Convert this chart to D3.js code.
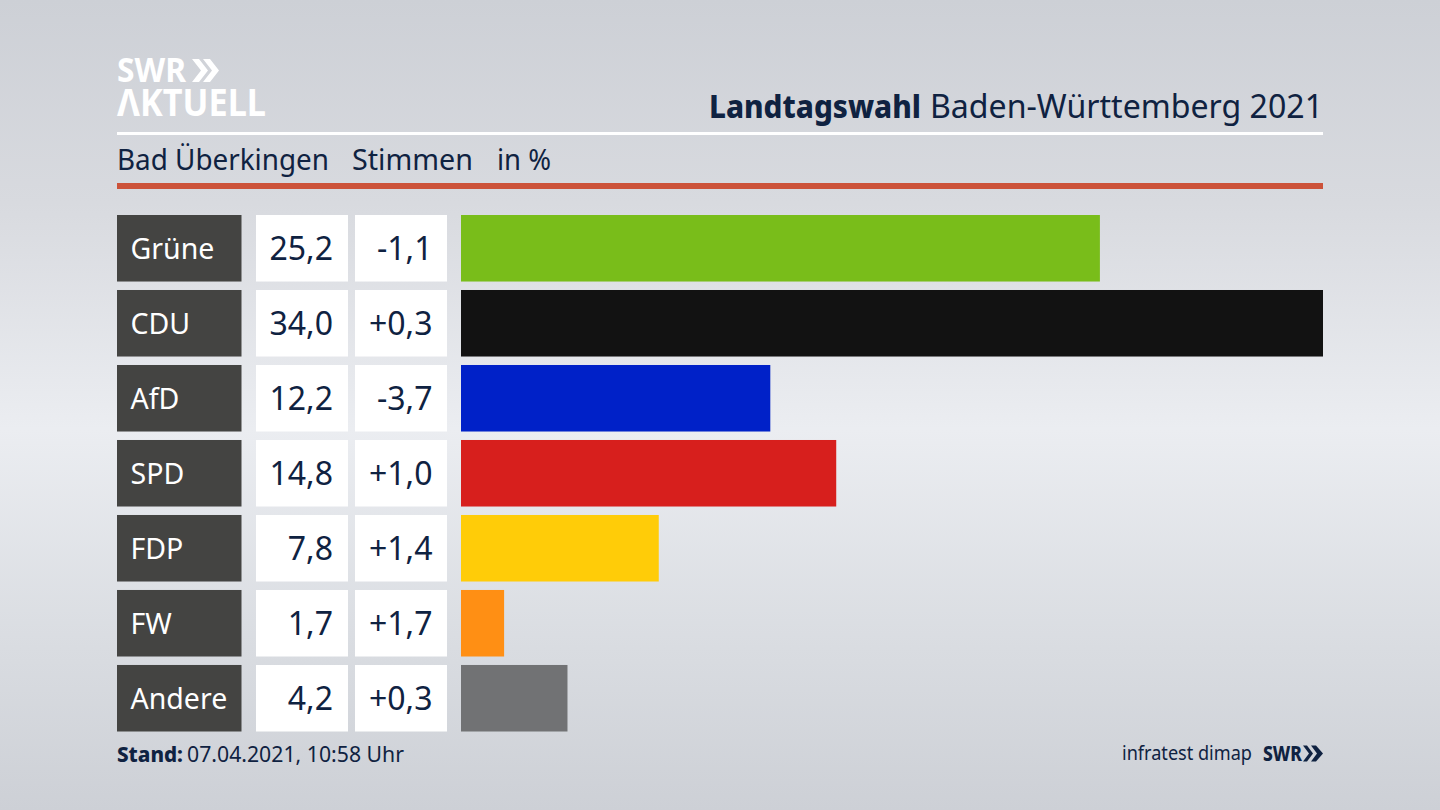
<!DOCTYPE html>
<html>
<head>
<meta charset="utf-8">
<script src="https://cdn.jsdelivr.net/npm/d3@7"></script>
<style>
    html, body { margin: 0; padding: 0; background: #d5d8de; }
    svg { display: block; }
    text { font-family: "Noto Sans", "Open Sans", sans-serif; }
</style>
</head>
<body>
<div id="chart"></div>
<script>
const parties = ["Grüne", "CDU", "AfD", "SPD", "FDP", "FW", "Andere"];
const shares = [25.2, 34.0, 12.2, 14.8, 7.8, 1.7, 4.2];
const changes = [-1.1, 0.3, -3.7, 1.0, 1.4, 1.7, 0.3];
const barColors = ["#79bd1a", "#121212", "#0021c8", "#d71f1d", "#ffcc08", "#ff8f14", "#717274"];

const width = 1440;
const height = 810;
const navy = "#0f2241";

const fmt = v => v.toFixed(1).replace(".", ",");
const fmtChange = v => (v > 0 ? "+" : "-") + fmt(Math.abs(v));

const svg = d3.select("#chart")
    .append("svg")
    .attr("width", width)
    .attr("height", height);

// background, light band through the middle
const defs = svg.append("defs");
const bg = defs.append("linearGradient")
    .attr("id", "bg")
    .attr("x1", 0).attr("y1", 0).attr("x2", 0).attr("y2", 1);
bg.append("stop").attr("offset", "0%").attr("stop-color", "#cdd0d6");
bg.append("stop").attr("offset", "25%").attr("stop-color", "#d8dadf");
bg.append("stop").attr("offset", "53%").attr("stop-color", "#ebedf1");
bg.append("stop").attr("offset", "80%").attr("stop-color", "#d9dce1");
bg.append("stop").attr("offset", "100%").attr("stop-color", "#cdd0d6");
svg.append("rect").attr("width", width).attr("height", height).attr("fill", "url(#bg)");

const y = d3.scaleBand()
    .domain(parties)
    .range([215, 731.5])
    .paddingInner(0.113);

const x = d3.scaleLinear()
    .domain([0, 34])
    .range([461, 1323]);

// logo
const logo = svg.append("g").attr("fill", "#fff");
logo.append("text").attr("x", 117).attr("y", 82)
    .attr("font-size", 34).attr("font-weight", 700)
    .attr("textLength", 69).attr("lengthAdjust", "spacingAndGlyphs")
    .text("SWR");
logo.append("text").attr("x", 117).attr("y", 116)
    .attr("font-size", 37).attr("font-weight", 700)
    .attr("textLength", 149).attr("lengthAdjust", "spacingAndGlyphs")
    .text("ΛKTUELL");
logo.append("path").attr("d", "M192 59h7l9 11.500-9 11.500h-7l9-11.500zM203 59h7l9 11.500-9 11.500h-7l9-11.500z");

// title
svg.append("text")
    .attr("x", 709).attr("y", 118)
    .attr("font-size", 32).attr("font-weight", 800)
    .attr("fill", navy)
    .attr("textLength", 212).attr("lengthAdjust", "spacingAndGlyphs")
    .text("Landtagswahl");
svg.append("text")
    .attr("x", 930).attr("y", 118)
    .attr("font-size", 33)
    .attr("fill", navy)
    .attr("textLength", 393).attr("lengthAdjust", "spacingAndGlyphs")
    .text("Baden-Württemberg 2021");

svg.append("rect").attr("x", 117).attr("y", 132).attr("width", 1206).attr("height", 3).attr("fill", "#fff");
svg.append("rect").attr("x", 117).attr("y", 183).attr("width", 1206).attr("height", 6).attr("fill", "#cc5239");

// subtitle
const subtitle = [["Bad Überkingen", 117, 212], ["Stimmen", 352, 121], ["in %", 497, 54]];
svg.selectAll(".subtitle")
    .data(subtitle)
    .enter()
    .append("text")
    .attr("class", "subtitle")
    .attr("x", d => d[1]).attr("y", 170)
    .attr("font-size", 29)
    .attr("fill", navy)
    .attr("textLength", d => d[2]).attr("lengthAdjust", "spacingAndGlyphs")
    .text(d => d[0]);

// rows
const rows = svg.selectAll(".row")
    .data(parties)
    .enter()
    .append("g")
    .attr("class", "row")
    .attr("transform", d => `translate(0,${y(d)})`);

rows.append("rect").attr("x", 117).attr("width", 124.5).attr("height", y.bandwidth()).attr("fill", "#444442");
rows.append("rect").attr("x", 256).attr("width", 92).attr("height", y.bandwidth()).attr("fill", "#fff");
rows.append("rect").attr("x", 355).attr("width", 92).attr("height", y.bandwidth()).attr("fill", "#fff");

rows.append("text")
    .attr("x", 130.500).attr("y", y.bandwidth() / 2 + 11)
    .attr("font-size", 28.5)
    .attr("fill", "#fff")
    .text(d => d);

rows.append("text")
    .attr("x", 333).attr("y", y.bandwidth() / 2 + 12)
    .attr("text-anchor", "end")
    .attr("font-size", 32)
    .attr("fill", navy)
    .text((d, i) => fmt(shares[i]));

rows.append("text")
    .attr("x", 432.500).attr("y", y.bandwidth() / 2 + 12)
    .attr("text-anchor", "end")
    .attr("font-size", 32)
    .attr("fill", navy)
    .text((d, i) => fmtChange(changes[i]));

rows.append("rect")
    .attr("x", x(0))
    .attr("width", (d, i) => x(shares[i]) - x(0))
    .attr("height", y.bandwidth())
    .attr("fill", (d, i) => barColors[i]);

// footer
svg.append("text")
    .attr("x", 117).attr("y", 762)
    .attr("font-size", 22).attr("font-weight", 800)
    .attr("fill", navy)
    .attr("textLength", 66).attr("lengthAdjust", "spacingAndGlyphs")
    .text("Stand:");
svg.append("text")
    .attr("x", 187).attr("y", 762)
    .attr("font-size", 22)
    .attr("fill", navy)
    .attr("textLength", 217).attr("lengthAdjust", "spacingAndGlyphs")
    .text("07.04.2021, 10:58 Uhr");

svg.append("text")
    .attr("x", 1122).attr("y", 760)
    .attr("font-size", 20)
    .attr("fill", navy)
    .attr("textLength", 130).attr("lengthAdjust", "spacingAndGlyphs")
    .text("infratest dimap");

svg.append("text")
    .attr("x", 1263).attr("y", 761)
    .attr("font-size", 21).attr("font-weight", 800)
    .attr("fill", navy)
    .attr("textLength", 39).attr("lengthAdjust", "spacingAndGlyphs")
    .text("SWR");
svg.append("path").attr("fill", navy)
    .attr("d", "M1303 745.500h4l6 8-6 8h-4l6-8zM1311 745.500h5l7 8-7 8h-5l6-8z");
</script>
</body>
</html>
